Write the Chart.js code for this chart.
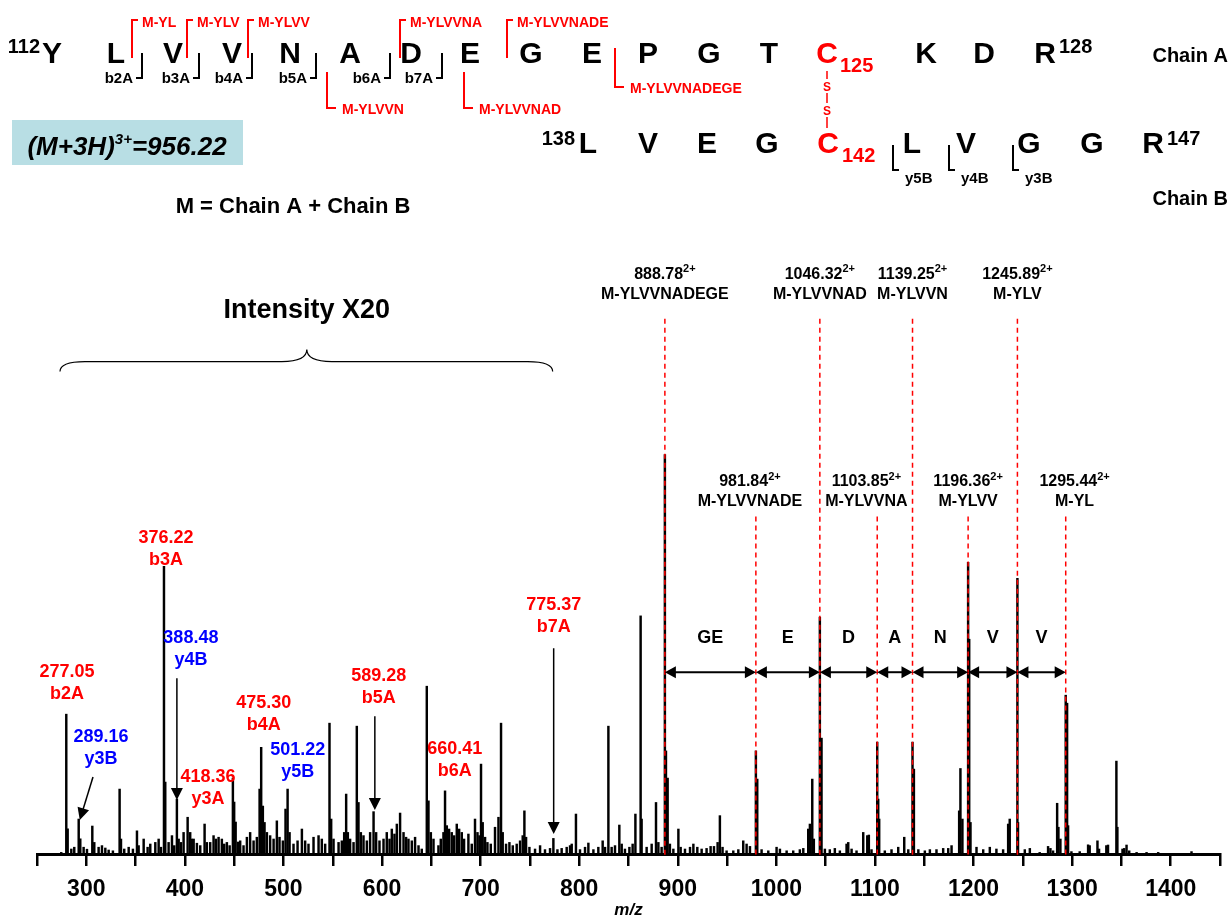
<html>
<head>
<meta charset="utf-8">
<style>
  body { margin: 0; background: #fff; }
</style>
</head>
<body>
<canvas id="chart" width="1231" height="921"></canvas>

<script src="https://cdn.jsdelivr.net/npm/chart.js@4.4.0/dist/chart.umd.min.js"></script>
<script>
// peaks (m/z, relative intensity, 888.78 peak = 100)
const peakMz = [
  274.6, 279.7, 281.1, 284.8, 287.8, 292.3, 293.9, 297.3, 300.7, 306.1, 308.1, 312.5, 315.9, 319.3, 322.7, 327,
  333.8, 335.2, 338.5, 343, 347.3, 351.4, 353.1, 358.2, 362.2, 364.9, 370, 373.4, 375.7, 378.8, 380.1, 383.5,
  386.9, 389.2, 391.9, 393.7, 396, 398.7, 402.8, 405.4, 407.1, 408.9, 412.2, 415.6, 420, 422.3, 425.7, 429.1,
  431.5, 434.2, 437.5, 439.9, 442.6, 445.4, 448.7, 450, 451.5, 454, 456.1, 459.5, 462.9, 466.2, 469.7, 473,
  475.8, 477.4, 479.1, 480.8, 483.2, 486.5, 490, 493.3, 496, 499.4, 502.1, 504.2, 506.2, 510.2, 514.3, 518.7,
  522, 525.4, 530.5, 535.6, 538.9, 542.3, 546.7, 548.4, 550.8, 555.9, 559.2, 561.6, 563.6, 565.3, 567.6, 571.1,
  574.4, 576.1, 578.5, 581.2, 584.6, 587.9, 591.4, 594, 597.4, 601.5, 604.8, 607.6, 609.9, 612.6, 615, 618.3,
  621.8, 624.4, 626.8, 630.2, 633.5, 637, 640.3, 645.4, 647.1, 649.5, 652.2, 657.2, 659.6, 662.3, 663.9, 665.7,
  668, 670.7, 673.1, 675.8, 678.2, 680.9, 683.2, 687.6, 691, 694.3, 696.8, 698.8, 700.4, 702.1, 704.5, 706.9,
  710.3, 714.6, 718.1, 720.7, 722.4, 725.8, 729.2, 732.6, 736.6, 740, 742.7, 744.4, 746.1, 749.5, 755.2, 760.3,
  765.3, 770.4, 773.8, 777.9, 782.2, 787.3, 790.7, 792.4, 796.7, 800.8, 805.9, 809.3, 814.4, 819.4, 823.8, 826.2,
  829.6, 832.9, 836.3, 840.7, 843.1, 846.4, 850.9, 854.2, 857, 862.3, 863.3, 868.4, 873.5, 877.9, 880.3, 883.6,
  886.9, 888, 889.7, 892, 895.5, 900.6, 902.9, 907.3, 912.4, 915.8, 919.8, 924.2, 929.2, 933.3, 936.7, 940.4,
  942.7, 945.4, 949.5, 956.3, 961.4, 966.4, 969.8, 973.2, 979.2, 980.6, 985, 991.8, 1000.2, 1003.6, 1010.4, 1017.1,
  1023.8, 1027.3, 1032.3, 1034, 1036.4, 1038, 1044.1, 1045.8, 1049.2, 1054.2, 1059.3, 1064.4, 1071.2, 1072.9, 1076.3, 1081.3,
  1088.1, 1092.2, 1093.8, 1096.5, 1102.3, 1103.3, 1104.3, 1110, 1116.8, 1123.6, 1129.7, 1133.8, 1138.1, 1139.5, 1144, 1150.6,
  1155.7, 1162.4, 1169.2, 1174.3, 1177.7, 1185.4, 1186.7, 1188.7, 1194.5, 1195.6, 1196.9, 1203, 1209.8, 1216.5, 1223.2, 1230,
  1235.1, 1236.7, 1244.5, 1245.1, 1252, 1257.1, 1267.1, 1275.6, 1278, 1280.7, 1284.8, 1286.1, 1288.1, 1293.5, 1294.9, 1295.9,
  1299.3, 1307.7, 1316.2, 1317.8, 1325.7, 1327.3, 1334.7, 1336.4, 1344.9, 1345.9, 1351.1, 1352.8, 1355.2, 1357.9, 1365.4, 1375.5,
  1387.3, 1421.1
]
const peakInt = [
  0.4, 35, 6.3, 1.25, 1.7, 8.75, 3.8, 1.7, 1.2, 7, 2.9, 1.7, 2.1, 1.5, 1, 0.8,
  16.25, 3.75, 1.25, 1.7, 1.25, 5.8, 2.1, 3.75, 1.7, 2.5, 2.9, 3.75, 1.7, 72, 18, 2.9,
  4.6, 2.1, 13.75, 3.75, 2.9, 5.4, 9.2, 5.4, 3.75, 3.75, 2.7, 2.1, 7.5, 2.9, 2.9, 4.6,
  3.75, 4.2, 3.75, 2.5, 2.9, 2.1, 19, 13, 8, 3, 3.3, 2.1, 4.2, 5.4, 3.3, 4.2,
  16.25, 26.7, 12, 7.9, 5.4, 4.6, 3.75, 8.3, 4.2, 3.3, 11.25, 16.25, 5.4, 2.5, 3.3, 6.25,
  3.3, 2.5, 4.2, 4.6, 3.75, 2.5, 32.75, 8.75, 3.75, 2.9, 3.3, 5.4, 15, 5.4, 3.75, 2.9,
  32, 12.9, 5.4, 4.6, 3.3, 5.4, 10.6, 5.4, 3.3, 3.75, 5.4, 3.75, 6.25, 5, 7.5, 10.25,
  5.4, 4.2, 3.75, 3.3, 4.2, 2.1, 1.25, 42, 13.3, 5.4, 3.75, 2.1, 3.75, 5.4, 15.8, 7.1,
  6.25, 5.4, 4.6, 7.5, 6.25, 5.4, 3.75, 5, 2.5, 8.75, 5.4, 4.6, 22.5, 7.9, 4.2, 2.9,
  2.5, 6.7, 9.2, 32.75, 5.4, 2.5, 2.9, 2.1, 2.5, 3.3, 4.6, 10.8, 4.2, 1.7, 1.25, 2.1,
  1.1, 1.4, 3.9, 1.1, 1.4, 1.7, 2.1, 2.5, 10, 1.1, 1.7, 2.75, 1.1, 1.7, 3.3, 1.7,
  32, 1.7, 2.1, 7.25, 2.5, 1.25, 1.7, 2.5, 10, 59.6, 8.75, 1.7, 2.5, 12.9, 2.9, 1.7,
  100, 25.8, 19, 2.5, 1.25, 6.25, 1.7, 1.25, 1.7, 2.5, 1.7, 1.25, 1.4, 1.9, 1.9, 2.9,
  9.6, 1.7, 0.8, 0.8, 1.1, 3.3, 2.5, 1.9, 25.8, 18.75, 1.1, 0.8, 1.7, 1.25, 0.8, 0.8,
  1.1, 1.4, 6.25, 7.5, 18.75, 3.75, 59.3, 29, 1.25, 1.1, 1.4, 0.8, 2.5, 2.9, 1.25, 0.8,
  5.4, 4.6, 4.75, 1.1, 28, 13.75, 8.75, 0.8, 1.1, 1.7, 4.2, 1.1, 28, 21.25, 1.1, 0.8,
  1.1, 1.1, 1.4, 1.4, 2.1, 10.8, 21.4, 8.75, 73, 53.75, 7.9, 1.7, 1.1, 1.7, 1.25, 1.1,
  7.5, 8.75, 69, 7.9, 1.1, 1.4, 0.4, 1.9, 1.4, 0.8, 12.7, 6.7, 3.75, 39.75, 37.75, 7.1,
  0.6, 0.6, 2.3, 2.1, 3.3, 1.25, 2.1, 2.25, 23.25, 6.7, 1.25, 1.4, 2.25, 0.8, 0.4, 0.4,
  0.4, 0.6
]

// labelled b / y ions (low mass part)
const ionValue = ['277.05', '289.16', '376.22', '388.48', '418.36', '475.30', '501.22', '589.28', '660.41', '775.37']
const ionName = ['b2A', 'y3B', 'b3A', 'y4B', 'y3A', 'b4A', 'y5B', 'b5A', 'b6A', 'b7A']

// doubly charged M-fragment series, peaks as drawn
const fragMz = [886.9, 979.2, 1044.1, 1102.3, 1138.1, 1194.5, 1244.5, 1293.5]
const fragValue = ['888.78', '981.84', '1046.32', '1103.85', '1139.25', '1196.36', '1245.89', '1295.44']
const fragName = ['M-YLVVNADEGE', 'M-YLVVNADE', 'M-YLVVNAD', 'M-YLVVNA', 'M-YLVVN', 'M-YLVV', 'M-YLV', 'M-YL']
const gapName = ['GE', 'E', 'D', 'A', 'N', 'V', 'V']

// sequences
const chainA = ['Y', 'L', 'V', 'V', 'N', 'A', 'D', 'E', 'G', 'E', 'P', 'G', 'T', 'C', 'K', 'D', 'R']
const chainB = ['L', 'V', 'E', 'G', 'C', 'L', 'V', 'G', 'G', 'R']
const bIons = ['b2A', 'b3A', 'b4A', 'b5A', 'b6A', 'b7A']
const yIons = ['y5B', 'y4B', 'y3B']
const mAbove = ['M-YL', 'M-YLV', 'M-YLVV', 'M-YLVVNA', 'M-YLVVNADE']
const mBelow = ['M-YLVVN', 'M-YLVVNAD', 'M-YLVVNADEGE']

const RED = '#ff0000'
const BLUE = '#0000ff'
const FAM = '"Liberation Sans", Arial, sans-serif'
const F = (size, style = 'bold') => `${style} ${size}px ${FAM}`

function text(ctx, s, x, y, font, color, align = 'center') {
  ctx.font = font
  ctx.fillStyle = color
  ctx.textAlign = align
  ctx.textBaseline = 'alphabetic'
  ctx.fillText(s, x, y)
}

// number with a superscript, centred as a whole on cx
function supText(ctx, main, sup, cx, y, size, supSize, color) {
  ctx.font = F(size)
  let w1 = ctx.measureText(main).width
  ctx.font = F(supSize)
  let w2 = ctx.measureText(sup).width
  let x0 = cx - (w1 + w2) / 2
  text(ctx, main, x0, y, F(size), color, 'left')
  text(ctx, sup, x0 + w1, y - size * 0.42, F(supSize), color, 'left')
}

function line(ctx, pts, color, width, dash) {
  ctx.save()
  ctx.strokeStyle = color
  ctx.lineWidth = width
  ctx.setLineDash(dash || [])
  ctx.beginPath()
  ctx.moveTo(pts[0][0], pts[0][1])
  for (let i = 1; i < pts.length; i++) ctx.lineTo(pts[i][0], pts[i][1])
  ctx.stroke()
  ctx.restore()
}

function head(ctx, x1, y1, x2, y2, len, half, color) {
  let a = Math.atan2(y2 - y1, x2 - x1)
  ctx.save()
  ctx.fillStyle = color
  ctx.translate(x2, y2)
  ctx.rotate(a)
  ctx.beginPath()
  ctx.moveTo(0, 0)
  ctx.lineTo(-len, -half)
  ctx.lineTo(-len, half)
  ctx.closePath()
  ctx.fill()
  ctx.restore()
}

// everything that sits in data space (m/z, intensity)
const spectrumNotes = {
  id: 'spectrumNotes',
  afterDatasetsDraw(chart) {
    const ctx = chart.ctx
    const X = v => chart.scales.x.getPixelForValue(v)
    const Y = v => chart.scales.y.getPixelForValue(v)

    // ion labels: [m/z of centre, intensity of first baseline]
    const ionPos = [[280.4, 44.25], [314.9, 28], [380.8, 77.75], [406.1, 52.75], [423.4, 18],
      [480.1, 36.5], [514.6, 24.75], [596.7, 43.25], [673.8, 25], [774.1, 61]]
    ionName.forEach((n, i) => {
      let c = n.endsWith('B') ? BLUE : RED
      let [m, v] = ionPos[i]
      text(ctx, ionValue[i], X(m), Y(v), F(18), c)
      text(ctx, n, X(m), Y(v) + 22, F(18), c)
    })

    // pointer arrows
    const arrows = [[306.8, 19.25, 293.4, 8.5], [391.9, 44, 391.9, 13.5], [592.7, 34.5, 592.7, 11], [774.1, 51.5, 774.1, 5]]
    arrows.forEach(([m1, v1, m2, v2]) => {
      let x1 = X(m1), y1 = Y(v1), x2 = X(m2), y2 = Y(v2)
      let a = Math.atan2(y2 - y1, x2 - x1)
      line(ctx, [[x1, y1], [x2 - 10 * Math.cos(a), y2 - 10 * Math.sin(a)]], '#000', 1.5)
      head(ctx, x1, y1, x2, y2, 12, 6, '#000')
    })

    // red dashed markers and their labels
    const labelShift = [0, -6, 0, -11, 0, 0, 0, 9]
    fragMz.forEach((m, i) => {
      let top = i % 2 === 0
      let x = X(m)
      line(ctx, [[x, Y(top ? 134 : 84.5)], [x, Y(0) + 3]], RED, 1.5, [5, 4])
      let cx = X(m + labelShift[i])
      let yb = top ? Y(144) : Y(92)
      supText(ctx, fragValue[i], '2+', cx, yb, 16, 11, '#000')
      text(ctx, fragName[i], cx, yb + 20, F(16), '#000')
    })

    // double arrows with the lost residues
    let ya = Y(45.5)
    gapName.forEach((g, i) => {
      let x1 = X(fragMz[i]), x2 = X(fragMz[i + 1])
      line(ctx, [[x1 + 8, ya], [x2 - 8, ya]], '#000', 2)
      head(ctx, x2, ya, x1, ya, 11, 6, '#000')
      head(ctx, x1, ya, x2, ya, 11, 6, '#000')
      text(ctx, g, (x1 + x2) / 2, Y(52.75), F(18), '#000')
    })

    // brace over the x20 region
    let bl = X(273.3), br = X(773.1), bm = X(523.7)
    let yE = Y(120.75), yF = Y(123.25), yP = Y(126.25)
    ctx.save()
    ctx.strokeStyle = '#000'
    ctx.lineWidth = 1.2
    ctx.beginPath()
    ctx.moveTo(bl, yE)
    ctx.quadraticCurveTo(bl, yF, bl + 25, yF)
    ctx.lineTo(bm - 25, yF)
    ctx.quadraticCurveTo(bm, yF, bm, yP)
    ctx.quadraticCurveTo(bm, yF, bm + 25, yF)
    ctx.lineTo(br - 25, yF)
    ctx.quadraticCurveTo(br, yF, br, yE)
    ctx.stroke()
    ctx.restore()
    text(ctx, 'Intensity X20', bm, Y(134.25), F(27), '#000')
  }
}

// peptide map at the top (plain page layout)
const peptideMap = {
  id: 'peptideMap',
  afterDraw(chart) {
    const ctx = chart.ctx
    const ax = [52, 116, 173, 232, 290, 350, 411, 470, 531, 592, 648, 709, 769, 827, 926, 984, 1045]
    const bx = [588, 648, 707, 767, 828, 912, 966, 1029, 1092, 1153]
    chainA.forEach((r, i) => text(ctx, r, ax[i], 63, F(30), i === 13 ? RED : '#000'))
    chainB.forEach((r, i) => text(ctx, r, bx[i], 153, F(30), i === 4 ? RED : '#000'))
    text(ctx, '112', 40, 53, F(20), '#000', 'right')
    text(ctx, '128', 1059, 53, F(20), '#000', 'left')
    text(ctx, '125', 840, 72, F(20), RED, 'left')
    text(ctx, '138', 575, 145, F(20), '#000', 'right')
    text(ctx, '147', 1167, 145, F(20), '#000', 'left')
    text(ctx, '142', 842, 162, F(20), RED, 'left')
    text(ctx, 'Chain A', 1228, 62, F(20), '#000', 'right')
    text(ctx, 'Chain B', 1228, 205, F(20), '#000', 'right')

    // disulfide bridge
    line(ctx, [[827, 71], [827, 79]], RED, 1.5)
    line(ctx, [[827, 93], [827, 103]], RED, 1.5)
    line(ctx, [[827, 117], [827, 128]], RED, 1.5)
    text(ctx, 'S', 827, 91, F(12), RED)
    text(ctx, 'S', 827, 115, F(12), RED)

    // b ions of chain A
    const bPos = [142, 199, 252, 316, 390, 442]
    bIons.forEach((n, i) => {
      let x = bPos[i]
      line(ctx, [[x, 53], [x, 78], [x - 6, 78]], '#000', 2)
      text(ctx, n, x - 9, 83, F(15), '#000', 'right')
    })
    // y ions of chain B
    const yPos = [893, 949, 1013]
    yIons.forEach((n, i) => {
      let x = yPos[i]
      line(ctx, [[x, 145], [x, 170], [x + 6, 170]], '#000', 2)
      text(ctx, n, x + 12, 183, F(15), '#000', 'left')
    })
    // M- fragments, brackets above the sequence
    const upPos = [132, 187, 248, 400, 507]
    mAbove.forEach((n, i) => {
      let x = upPos[i]
      line(ctx, [[x, 58], [x, 20], [x + 6, 20]], RED, 2)
      text(ctx, n, x + 10, 27, F(14), RED, 'left')
    })
    // M- fragments, brackets below the sequence
    const downPos = [[327, 72, 108], [464, 72, 108], [615, 48, 87]]
    mBelow.forEach((n, i) => {
      let [x, y1, y2] = downPos[i]
      line(ctx, [[x, y1], [x, y2], [x + 9, y2]], RED, 2)
      text(ctx, n, x + 15, y2 + 6, F(14), RED, 'left')
    })

    // precursor box
    ctx.fillStyle = '#b8dee4'
    ctx.fillRect(12, 120, 231, 45)
    ctx.font = F(26, 'italic bold')
    let s1 = '(M+3H)', s2 = '3+', s3 = '=956.22'
    let w1 = ctx.measureText(s1).width
    let w3 = ctx.measureText(s3).width
    ctx.font = F(15, 'italic bold')
    let w2 = ctx.measureText(s2).width
    let x0 = 127 - (w1 + w2 + w3) / 2
    text(ctx, s1, x0, 155, F(26, 'italic bold'), '#000', 'left')
    text(ctx, s2, x0 + w1, 144, F(15, 'italic bold'), '#000', 'left')
    text(ctx, s3, x0 + w1 + w2, 155, F(26, 'italic bold'), '#000', 'left')

    text(ctx, 'M = Chain A + Chain B', 293, 213, F(22), '#000')
  }
}

const ctx = document.getElementById('chart').getContext('2d')
new Chart(ctx, {
  type: 'bar',
  data: {
    datasets: [{
      data: peakMz.map((m, i) => ({ x: m, y: peakInt[i] })),
      backgroundColor: '#000',
      borderWidth: 0,
      barThickness: 1.8,
    }]
  },
  options: {
    responsive: false,
    animation: false,
    devicePixelRatio: 1,
    layout: { padding: { left: 37, right: 11, top: 0, bottom: 0 } },
    plugins: { legend: { display: false }, tooltip: { enabled: false } },
    scales: {
      x: {
        type: 'linear',
        offset: false,
        min: 250,
        max: 1450,
        border: { display: true, color: '#000', width: 3 },
        grid: { offset: false, drawOnChartArea: false, drawTicks: true, tickLength: 12, color: '#000', lineWidth: 2.5 },
        ticks: {
          stepSize: 50,
          autoSkip: false,
          maxRotation: 0,
          padding: 10,
          color: '#000',
          font: { family: FAM, size: 23, weight: 'bold' },
          callback: v => (v % 100 === 0 ? String(v) : ''),
        },
        title: {
          display: true,
          text: 'm/z',
          color: '#000',
          padding: { top: -13, bottom: 0 },
          font: { family: FAM, size: 17, weight: 'bold', style: 'italic' },
        },
      },
      y: { display: false, min: 0, max: 213.75 },
    },
  },
  plugins: [spectrumNotes, peptideMap],
})
</script>
</body>
</html>
